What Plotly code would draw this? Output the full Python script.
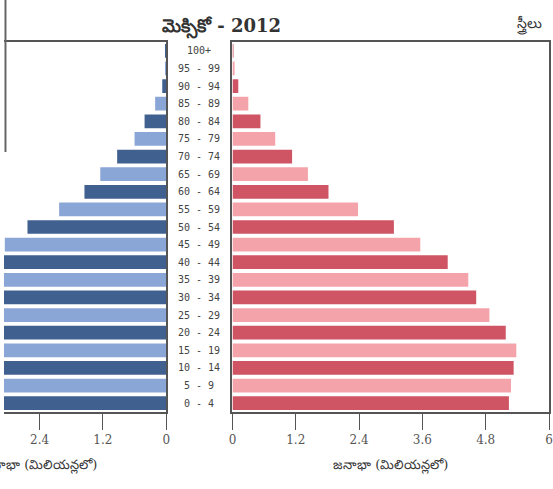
import plotly.graph_objects as go

ages = ["0 - 4", "5 - 9", "10 - 14", "15 - 19", "20 - 24", "25 - 29", "30 - 34",
        "35 - 39", "40 - 44", "45 - 49", "50 - 54", "55 - 59", "60 - 64", "65 - 69",
        "70 - 74", "75 - 79", "80 - 84", "85 - 89", "90 - 94", "95 - 99", "100+"]
# millions
males = [5.40, 5.45, 5.45, 5.35, 4.85, 4.40, 4.20, 4.00, 3.60, 3.06, 2.63, 2.03,
         1.55, 1.25, 0.93, 0.60, 0.41, 0.21, 0.075, 0.02, 0.005]
females = [5.24, 5.28, 5.33, 5.38, 5.18, 4.87, 4.62, 4.47, 4.08, 3.56, 3.06, 2.38,
           1.82, 1.43, 1.13, 0.81, 0.53, 0.30, 0.11, 0.04, 0.01]

male_ticks = [0, 1.2, 2.4, 3.6]
male_ticktext = ["0", "1.2", "2.4", "3.6"]
female_ticks = [0, 1.2, 2.4, 3.6, 4.8, 6]
female_ticktext = ["0", "1.2", "2.4", "3.6", "4.8", "6"]

title_text = "మెక్సికో - 2012"
female_label = "స్త్రీలు"
axis_title = "జనాభా (మిలియన్లలో)"

W, H = 553, 489
ML, MR, MT, MB = 0, 2, 42, 77
PW = W - ML - MR
PH = H - MT - MB

def px(x):
    return x / PW

male_colors = ["#40608f" if i % 2 == 0 else "#8aa6d6" for i in range(len(ages))]
female_colors = ["#cf5565" if i % 2 == 0 else "#f5a3ab" for i in range(len(ages))]

fig = go.Figure()
fig.add_trace(go.Bar(y=ages, x=males, orientation="h", marker=dict(color=male_colors, line=dict(width=0)),
                     xaxis="x", yaxis="y", showlegend=False, hoverinfo="x+y"))
fig.add_trace(go.Bar(y=ages, x=females, orientation="h", marker=dict(color=female_colors, line=dict(width=0)),
                     xaxis="x2", yaxis="y2", showlegend=False, hoverinfo="x+y"))

axis_line = "#555555"
tickfont = dict(family="DejaVu Serif", size=12, color="#555555")

fig.update_layout(
    width=W, height=H,
    margin=dict(l=ML, r=MR, t=MT, b=MB),
    paper_bgcolor="white", plot_bgcolor="white",
    bargap=0.22,
    xaxis=dict(domain=[0, px(164)], range=[164 / 53.33, 0], tickvals=male_ticks, ticktext=male_ticktext,
               ticks="outside", ticklen=16, tickcolor=axis_line, tickwidth=1, tickfont=tickfont,
               showgrid=False, zeroline=False, showline=True, linecolor=axis_line, linewidth=1.5, mirror=True),
    yaxis=dict(domain=[0, 1], categoryorder="array", categoryarray=ages, range=[-0.5, 20.5],
               showticklabels=False, ticks="", showgrid=False, zeroline=False, side="right",
               showline=True, linecolor=axis_line, linewidth=1.5, anchor="x"),
    xaxis2=dict(domain=[px(231), 1], range=[0, 6], tickvals=female_ticks, ticktext=female_ticktext,
                ticks="outside", ticklen=16, tickcolor=axis_line, tickwidth=1, tickfont=tickfont,
                showgrid=False, zeroline=False, showline=True, linecolor=axis_line, linewidth=1.5, mirror=True,
                anchor="y2"),
    yaxis2=dict(domain=[0, 1], categoryorder="array", categoryarray=ages, range=[-0.5, 20.5],
                showticklabels=False, ticks="", showgrid=False, zeroline=False, side="left",
                showline=True, linecolor=axis_line, linewidth=1.5, mirror=True, anchor="x2"),
)

annotations = []
for a in ages:
    annotations.append(dict(xref="paper", yref="y", x=px(197.5), y=a, text=a, showarrow=False,
                            xanchor="center", yanchor="middle",
                            font=dict(family="DejaVu Sans Mono", size=10, color="#444444")))
annotations.append(dict(xref="paper", yref="paper", x=px(220), y=1 + 15 / PH, text="<b>" + title_text + "</b>",
                        showarrow=False, xanchor="center", yanchor="middle",
                        font=dict(family="DejaVu Serif", size=18, color="#333333")))
annotations.append(dict(xref="paper", yref="paper", x=px(546), y=1 + 17 / PH, text=female_label,
                        showarrow=False, xanchor="right", yanchor="middle",
                        font=dict(family="DejaVu Serif", size=14, color="#333333")))
annotations.append(dict(xref="paper", yref="paper", x=px(391), y=-53 / PH, text=axis_title,
                        showarrow=False, xanchor="center", yanchor="middle",
                        font=dict(family="DejaVu Serif", size=13, color="#333333")))
annotations.append(dict(xref="paper", yref="paper", x=px(96), y=-53 / PH, text=axis_title,
                        showarrow=False, xanchor="right", yanchor="middle",
                        font=dict(family="DejaVu Serif", size=13, color="#333333")))
fig.update_layout(annotations=annotations)

# stray frame edge on the far left of the reference crop
fig.add_shape(type="line", xref="paper", yref="paper", x0=px(1.5), x1=px(1.5),
              y0=1 + MT / PH, y1=1 - 110 / PH, line=dict(color="#666666", width=2))

fig.write_html("out.html", config={"displayModeBar": False},
               post_script="document.body.style.margin='0';document.body.style.padding='0';")
